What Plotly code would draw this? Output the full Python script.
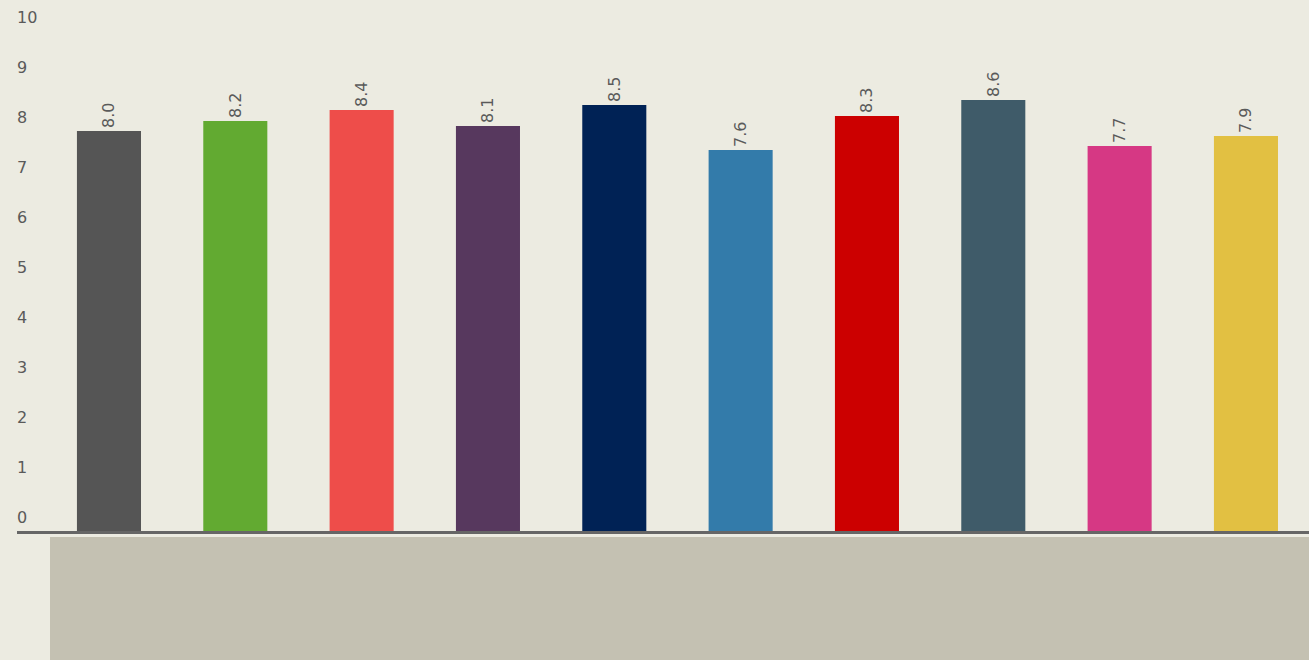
import plotly.graph_objects as go

positions = list(range(10))
values = [8.0, 8.2, 8.42, 8.1, 8.52, 7.62, 8.3, 8.62, 7.7, 7.9]
labels = ["8.0", "8.2", "8.4", "8.1", "8.5", "7.6", "8.3", "8.6", "7.7", "7.9"]
colors = ["#555555", "#62AA31", "#EE4D4A", "#57385E", "#002255",
          "#337BAA", "#CC0000", "#3F5B69", "#D63884", "#E2C042"]
y_ticks = list(range(0, 11))

fig = go.Figure(go.Bar(
    x=positions, y=values, width=0.507,
    marker=dict(color=colors, line=dict(width=0)),
    text=labels, textposition="outside", textangle=-90,
    textfont=dict(family="DejaVu Sans", size=16, color="#5a5a5a"),
    cliponaxis=False, constraintext="none", hoverinfo="skip",
))

fig.update_layout(
    width=1309, height=660,
    margin=dict(l=17, r=0, t=0, b=129, pad=0),
    paper_bgcolor="#ECEBE1", plot_bgcolor="#ECEBE1",
    showlegend=False,
    xaxis=dict(range=[-0.728, 9.499], showticklabels=False, showgrid=False,
               zeroline=False, showline=True, linecolor="#666666", linewidth=3,
               ticks=""),
    yaxis=dict(range=[0, 10.62], tickvals=y_ticks, ticktext=[str(v) for v in y_ticks],
               showgrid=False, zeroline=False, showline=False, ticks="",
               ticklabelposition="inside", ticklabelshift=-14, ticklabelstandoff=-3,
               tickfont=dict(family="DejaVu Sans", size=16, color="#5a5a5a")),
    shapes=[dict(type="rect", xref="paper", yref="paper",
                 x0=(50 - 17) / 1292, x1=1.01, y0=-0.25, y1=(531 - 537) / 531,
                 fillcolor="#C4C1B2", line=dict(width=0), layer="above")],
)

fig.write_html("out.html", config={"displayModeBar": False},
               post_script="document.body.style.margin='0';document.body.style.background='#ECEBE1';")
